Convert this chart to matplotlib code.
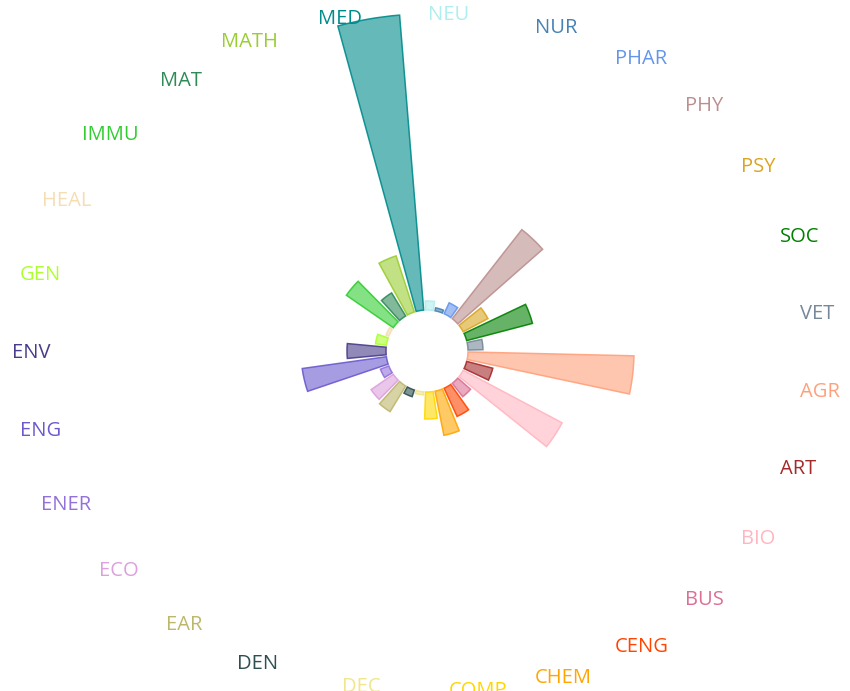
import matplotlib
matplotlib.use('agg')
import numpy as np
import matplotlib.pyplot as plt
from matplotlib.colors import to_rgba

plt.rcParams['font.family'] = ['Open Sans', 'DejaVu Sans']

# subject areas, clockwise from the east
areas = ['AGR', 'ART', 'BIO', 'BUS', 'CENG', 'CHEM', 'COMP', 'DEC', 'DEN',
         'EAR', 'ECO', 'ENER', 'ENG', 'ENV', 'GEN', 'HEAL', 'IMMU', 'MAT',
         'MATH', 'MED', 'NEU', 'NUR', 'PHAR', 'PHY', 'PSY', 'SOC', 'VET']
counts = [166, 27, 112, 17, 31, 45, 27, 3, 7, 30, 27, 9, 85, 39, 11, 3, 57,
          27, 59, 296, 9, 3, 12, 113, 28, 68, 15]
colors = ['lightsalmon', 'brown', 'lightpink', 'palevioletred', 'orangered',
          'orange', 'gold', 'khaki', 'darkslategray', 'darkkhaki', 'plum',
          'mediumpurple', 'slateblue', 'darkslateblue', 'greenyellow', 'wheat',
          'limegreen', 'seagreen', 'yellowgreen', 'darkcyan', 'paleturquoise',
          'steelblue', 'cornflowerblue', 'rosybrown', 'goldenrod', 'green',
          'lightslategray']
centred = ['DEC', 'NEU']

W, H = 850, 691
cx, cy = 427, 340          # centre in pixels (from bottom-left)
hole = 41
rmax = 350

fig = plt.figure(figsize=(W / 100, H / 100), dpi=100)
ax = fig.add_axes([(cx - rmax) / W, (cy - rmax) / H, 2 * rmax / W, 2 * rmax / H],
                  projection='polar')
ax.set_theta_direction(-1)
ax.set_theta_offset(0)

n = len(areas)
step = 2 * np.pi / n
theta = (np.arange(n) + 0.5) * step

ax.bar(theta, counts, width=step * 0.8, bottom=hole,
       color=[to_rgba(c, 0.6) for c in colors],
       edgecolor=[to_rgba(c, 0.9) for c in colors], linewidth=1.1)
ax.set_ylim(0, rmax)
ax.axis('off')

# labels on an ellipse around the bars
A, B = 376, 339
for t, name, c in zip(theta, areas, colors):
    x = cx + A * np.cos(-t)
    y = cy - 2 + B * np.sin(-t)
    if name in centred:
        ha = 'center'
    elif np.cos(t) > 0:
        ha = 'left'
    else:
        ha = 'right'
    fig.text(x / W, y / H, name, color=c, fontsize=14.5,
             ha=ha, va='center')

plt.savefig('out.png', dpi=100)
